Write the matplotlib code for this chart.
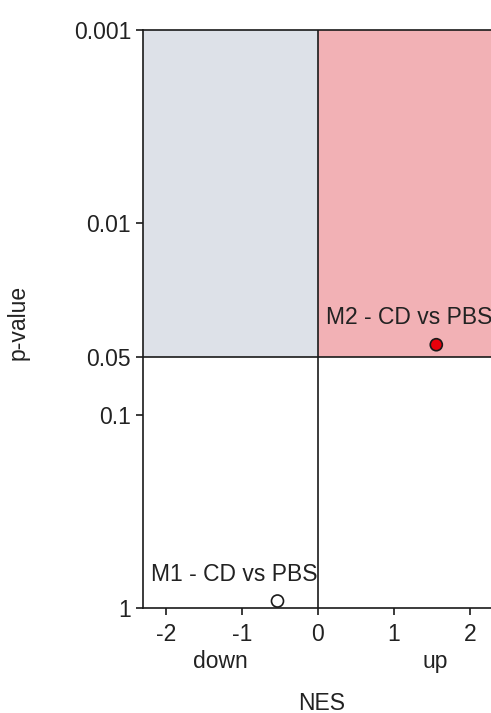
import numpy as np
import matplotlib
matplotlib.use("Agg")
import matplotlib.pyplot as plt
from matplotlib.ticker import FixedLocator, NullLocator

plt.rcParams['font.family'] = ['Liberation Sans', 'DejaVu Sans']

# data
labels = ["M1 - CD vs PBS", "M2 - CD vs PBS"]
nes = [-0.53, 1.56]
pvals = [0.92, 0.043]
face = ["white", "#e8000b"]

p_ticks = [0.001, 0.01, 0.05, 0.1, 1]
p_ticklabels = ["0.001", "0.01", "0.05", "0.1", "1"]
nes_ticks = [-2, -1, 0, 1, 2]

fs = 16.5
fig = plt.figure(figsize=(4.91, 7.13), dpi=100)
ax = fig.add_axes([143 / 491, 1 - 608 / 713, 1 - 143 / 491, (608 - 30) / 713])

ax.set_yscale("log")
ax.set_xlim(-2.3, 2.28)
ax.set_ylim(1, 0.001)

# significance regions
ax.fill_between([-2.3, 0], 0.05, 0.001, color="#dde1e8", zorder=0, lw=0)
ax.fill_between([0, 2.28], 0.05, 0.001, color="#f2b1b5", zorder=0, lw=0)
ax.axhline(0.05, color="#1a1a1a", lw=1.2, zorder=1)
ax.axvline(0, color="#1a1a1a", lw=1.2, zorder=1)
ax.axhline(0.001, color="#1a1a1a", lw=1.2, zorder=1, clip_on=False)

ax.scatter(nes, pvals, s=75, c=face, edgecolors="#1a1a1a", linewidths=1.2, zorder=3, clip_on=False)
ax.text(1.2, 0.031, labels[1], fontsize=fs, ha="center", va="center", color="#222222")
ax.text(-1.1, 0.67, labels[0], fontsize=fs, ha="center", va="center", color="#222222")

for s in ["top", "right"]:
    ax.spines[s].set_visible(False)
for s in ["left", "bottom"]:
    ax.spines[s].set_linewidth(1.2)
    ax.spines[s].set_color("#1a1a1a")

ax.yaxis.set_major_locator(FixedLocator(p_ticks))
ax.yaxis.set_minor_locator(NullLocator())
ax.set_yticklabels(p_ticklabels)
ax.set_xticks(nes_ticks)
ax.set_xticklabels([str(t) for t in nes_ticks])
ax.tick_params(labelsize=fs, length=5, width=1.2, direction="out", colors="#1a1a1a", labelcolor="#222222")
ax.tick_params(axis="x", pad=6)

ax.text(-1.28, -0.092, "down", transform=ax.get_xaxis_transform(), ha="center", va="center", fontsize=fs, color="#222222")
ax.text(1.55, -0.092, "up", transform=ax.get_xaxis_transform(), ha="center", va="center", fontsize=fs, color="#222222")
fig.text(322 / 491, 1 - 703 / 713, "NES", ha="center", va="center", fontsize=fs, color="#222222")
fig.text(18 / 491, 1 - 322 / 713, "p-value", ha="center", va="center", rotation=90, fontsize=fs, color="#222222")

fig.savefig("out.png", dpi=100)
